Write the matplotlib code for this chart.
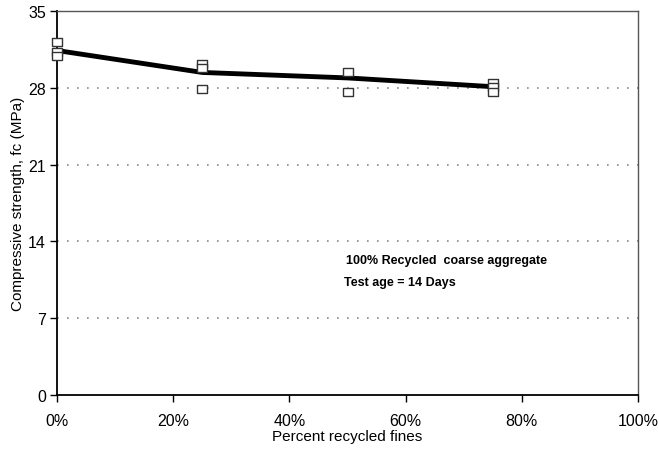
import matplotlib
matplotlib.use("Agg")
import matplotlib.pyplot as plt
from matplotlib.ticker import FuncFormatter

plt.rcParams['font.family'] = ['Liberation Sans', 'DejaVu Sans']

# Individual specimen results (fraction of recycled fines, MPa)
specimen_fines = [0.00, 0.00, 0.00, 0.25, 0.25, 0.25, 0.50, 0.50, 0.75, 0.75, 0.75]
specimen_strength = [32.2, 31.3, 30.9, 30.2, 29.8, 27.9, 29.4, 27.6, 28.4, 28.1, 27.6]

# Trend line through the averages
trend_fines = [0.00, 0.25, 0.50, 0.75]
trend_strength = [31.4, 29.4, 28.9, 28.1]

y_ticks = [0, 7, 14, 21, 28, 35]
x_ticks = [0.0, 0.2, 0.4, 0.6, 0.8, 1.0]

# slightly flattened open box marker
box = [(-1, -0.78), (1, -0.78), (1, 0.78), (-1, 0.78), (-1, -0.78)]

fig = plt.figure(figsize=(6.59, 4.52), dpi=100)
ax = fig.add_axes([57 / 659, 56 / 452, (638 - 57) / 659, (396 - 12) / 452])

for y in y_ticks[1:-1]:
    ax.axhline(y, color='#888888', linestyle=(0, (1, 5)), linewidth=1.2, zorder=1)

ax.plot(trend_fines, trend_strength, color='black', linewidth=3.5,
        solid_capstyle='butt', zorder=3)
ax.plot(specimen_fines, specimen_strength, linestyle='none', marker=box,
        markersize=7, markerfacecolor='white', markeredgecolor='#333333',
        markeredgewidth=1.0, zorder=4, clip_on=False)

ax.set_xlim(0, 1.0)
ax.set_ylim(0, 35)
ax.set_xticks(x_ticks)
ax.set_yticks(y_ticks)
ax.xaxis.set_major_formatter(FuncFormatter(lambda v, p: f"{v * 100:.0f}%"))
ax.tick_params(axis='both', direction='out', length=5, width=1, labelsize=11.5, pad=3)
ax.tick_params(axis='x', pad=8)

for side in ('left', 'bottom'):
    ax.spines[side].set_color('black')
    ax.spines[side].set_linewidth(1.3)
for side in ('top', 'right'):
    ax.spines[side].set_color('#555555')
    ax.spines[side].set_linewidth(1.0)

ax.set_xlabel('Percent recycled fines', fontsize=11, labelpad=1)
ax.set_ylabel('Compressive strength, fc (MPa)', fontsize=11, labelpad=2)

ax.text(0.497, 12.3, '100% Recycled  coarse aggregate', fontsize=9,
        fontweight='bold', ha='left', va='center')
ax.text(0.494, 10.3, 'Test age = 14 Days', fontsize=9,
        fontweight='bold', ha='left', va='center')

fig.savefig('out.png', dpi=100, facecolor='white')
